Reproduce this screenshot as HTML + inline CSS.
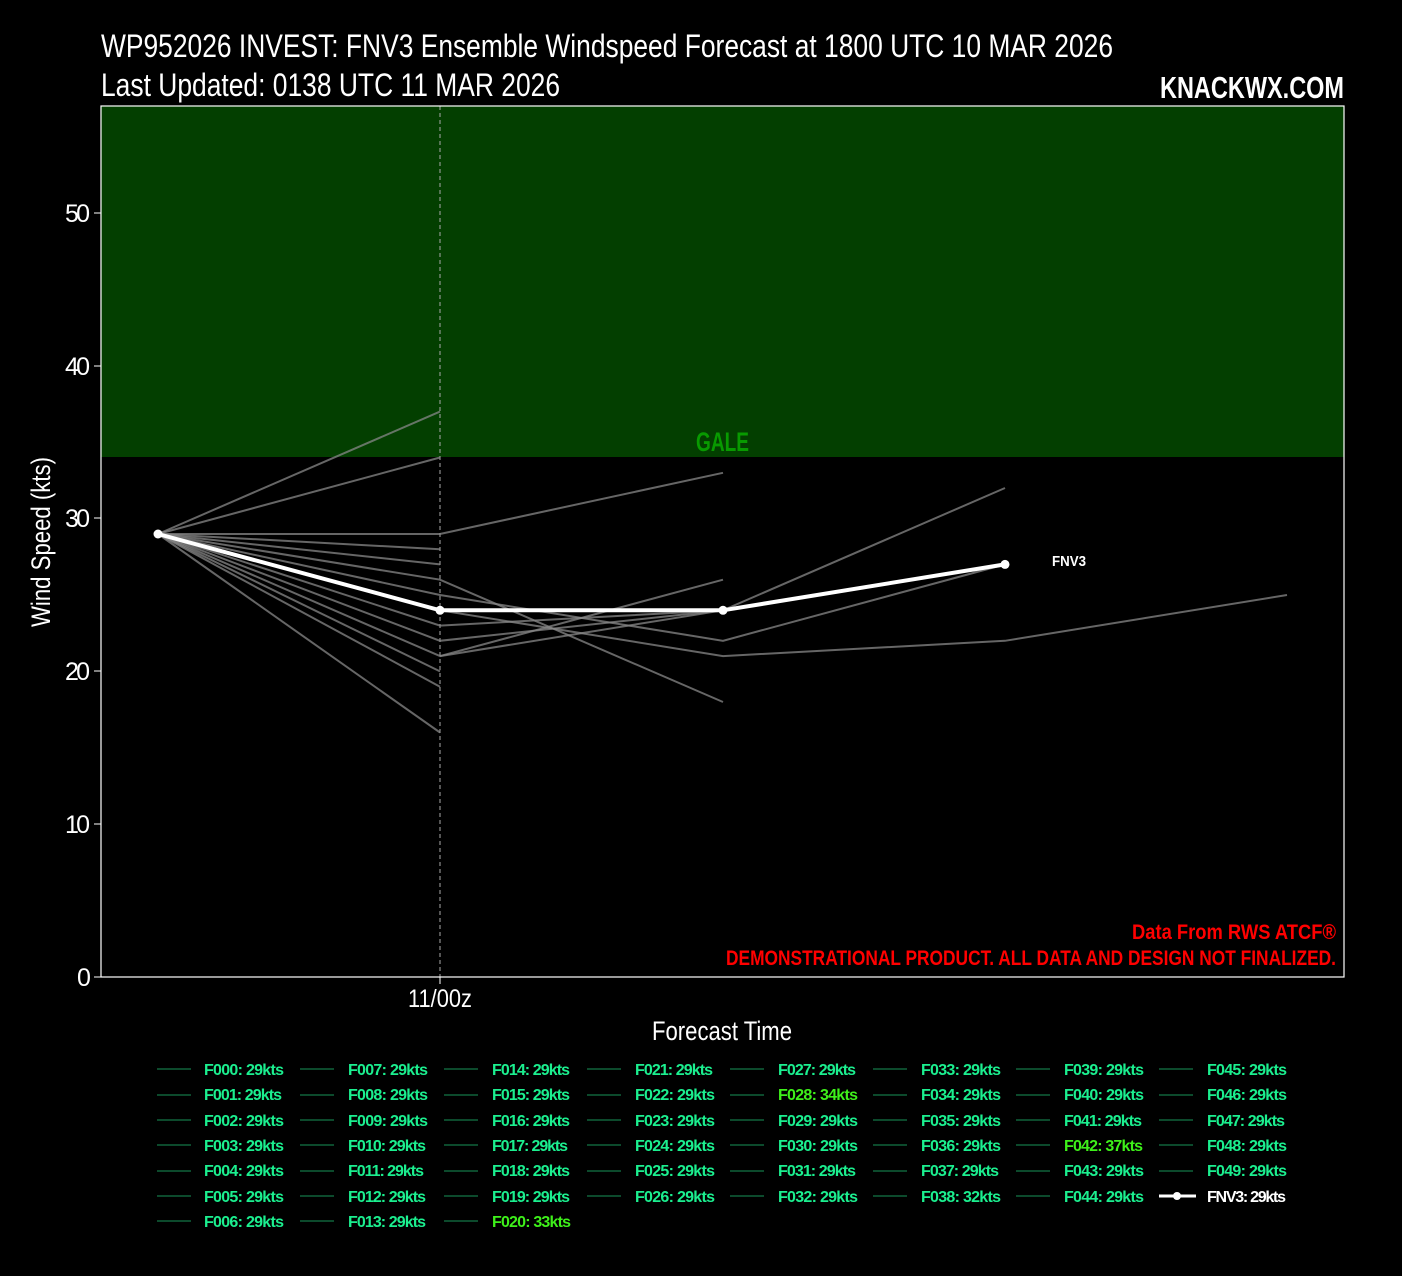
<!DOCTYPE html>
<html><head><style>
body{margin:0;background:#000;}
svg{display:block;font-family:"Liberation Sans Narrow","Liberation Sans",sans-serif;}
.lg{font-size:16px;font-weight:bold;fill:#1bef8f;}
.hl{fill:#3ef01a;}
.e{stroke:#888;stroke-opacity:.75;stroke-width:2;fill:none;}
.ll{stroke:#0c4a2c;stroke-width:2;}
</style></head><body>
<svg width="1402" height="1276" viewBox="0 0 1402 1276" xmlns="http://www.w3.org/2000/svg">
<rect width="1402" height="1276" fill="#000"/>
<text x="101" y="57" fill="#fff" font-size="32" textLength="1012" lengthAdjust="spacingAndGlyphs">WP952026 INVEST: FNV3 Ensemble Windspeed Forecast at 1800 UTC 10 MAR 2026</text>
<text x="101" y="96" fill="#fff" font-size="32" textLength="459" lengthAdjust="spacingAndGlyphs">Last Updated: 0138 UTC 11 MAR 2026</text>
<text x="1160" y="98" fill="#fff" font-size="31" font-weight="bold" textLength="184" lengthAdjust="spacingAndGlyphs">KNACKWX.COM</text>
<rect x="101" y="106" width="1243" height="351" fill="#033f00"/>
<text x="696" y="451" fill="#089a00" font-size="27" font-weight="bold" textLength="53" lengthAdjust="spacingAndGlyphs">GALE</text>
<line x1="440" y1="106" x2="440" y2="977" stroke="#aaa" stroke-width="1" stroke-dasharray="4,3"/>
<g class="e">
<polyline points="158,534 440,411.6"/>
<polyline points="158,534 440,457.5"/>
<polyline points="158,534 440,534 723,472.8"/>
<polyline points="158,534 440,549.2"/>
<polyline points="158,534 440,564.4"/>
<polyline points="158,534 440,579.7 723,702"/>
<polyline points="158,534 440,595 723,640.8 1005,564.4"/>
<polyline points="158,534 440,625.6 723,610.3 1005,488"/>
<polyline points="158,534 440,640.8 723,610.3"/>
<polyline points="158,534 440,656.1 723,579.7"/>
<polyline points="158,534 440,671.4"/>
<polyline points="158,534 440,686.7"/>
<polyline points="158,534 440,732.5"/>
<polyline points="440,610.3 723,656.1 1005,640.8 1287,595"/>
<polyline points="440,656.1 723,610.3"/>
</g>
<polyline points="158,534 440,610.3 723,610.3 1005,564.4" stroke="#fff" stroke-width="4" fill="none"/>
<g fill="#fff"><circle cx="158" cy="534" r="4.5"/><circle cx="440" cy="610.3" r="4.5"/><circle cx="723" cy="610.3" r="4.5"/><circle cx="1005" cy="564.4" r="4.5"/></g>
<text x="1052" y="566" fill="#fff" font-size="15" font-weight="bold" textLength="34" lengthAdjust="spacingAndGlyphs">FNV3</text>
<rect x="101" y="106" width="1243" height="871" fill="none" stroke="#fff" stroke-width="1.2"/>
<g fill="#fff" font-size="25" lengthAdjust="spacingAndGlyphs">
<text x="77" y="986" textLength="13">0</text><text x="65" y="833" textLength="25">10</text><text x="65" y="680" textLength="25">20</text><text x="65" y="527" textLength="25">30</text><text x="65" y="375" textLength="25">40</text><text x="65" y="222" textLength="25">50</text>
</g>
<g stroke="#fff"><line x1="94" y1="977" x2="101" y2="977"/><line x1="94" y1="824" x2="101" y2="824"/><line x1="94" y1="671" x2="101" y2="671"/><line x1="94" y1="518" x2="101" y2="518"/><line x1="94" y1="366" x2="101" y2="366"/><line x1="94" y1="213" x2="101" y2="213"/><line x1="440" y1="977" x2="440" y2="984"/></g>
<text x="408" y="1007" fill="#fff" font-size="25" textLength="64" lengthAdjust="spacingAndGlyphs">11/00z</text>
<text x="652" y="1040" fill="#fff" font-size="27" textLength="140" lengthAdjust="spacingAndGlyphs">Forecast Time</text>
<text transform="translate(50,627) rotate(-90)" fill="#fff" font-size="27" textLength="170" lengthAdjust="spacingAndGlyphs">Wind Speed (kts)</text>
<text x="1132" y="939" fill="#f00" font-size="21" font-weight="bold" textLength="204" lengthAdjust="spacingAndGlyphs">Data From RWS ATCF®</text>
<text x="726" y="965" fill="#f00" font-size="21" font-weight="bold" textLength="610" lengthAdjust="spacingAndGlyphs">DEMONSTRATIONAL PRODUCT. ALL DATA AND DESIGN NOT FINALIZED.</text>
<g class="ll">
<line x1="157" y1="1069" x2="191" y2="1069"/><line x1="157" y1="1095" x2="191" y2="1095"/><line x1="157" y1="1120" x2="191" y2="1120"/><line x1="157" y1="1145" x2="191" y2="1145"/><line x1="157" y1="1171" x2="191" y2="1171"/><line x1="157" y1="1196" x2="191" y2="1196"/><line x1="157" y1="1221" x2="191" y2="1221"/>
<line x1="300" y1="1069" x2="334" y2="1069"/><line x1="300" y1="1095" x2="334" y2="1095"/><line x1="300" y1="1120" x2="334" y2="1120"/><line x1="300" y1="1145" x2="334" y2="1145"/><line x1="300" y1="1171" x2="334" y2="1171"/><line x1="300" y1="1196" x2="334" y2="1196"/><line x1="300" y1="1221" x2="334" y2="1221"/>
<line x1="444" y1="1069" x2="478" y2="1069"/><line x1="444" y1="1095" x2="478" y2="1095"/><line x1="444" y1="1120" x2="478" y2="1120"/><line x1="444" y1="1145" x2="478" y2="1145"/><line x1="444" y1="1171" x2="478" y2="1171"/><line x1="444" y1="1196" x2="478" y2="1196"/><line x1="444" y1="1221" x2="478" y2="1221"/>
<line x1="587" y1="1069" x2="621" y2="1069"/><line x1="587" y1="1095" x2="621" y2="1095"/><line x1="587" y1="1120" x2="621" y2="1120"/><line x1="587" y1="1145" x2="621" y2="1145"/><line x1="587" y1="1171" x2="621" y2="1171"/><line x1="587" y1="1196" x2="621" y2="1196"/>
<line x1="730" y1="1069" x2="764" y2="1069"/><line x1="730" y1="1095" x2="764" y2="1095"/><line x1="730" y1="1120" x2="764" y2="1120"/><line x1="730" y1="1145" x2="764" y2="1145"/><line x1="730" y1="1171" x2="764" y2="1171"/><line x1="730" y1="1196" x2="764" y2="1196"/>
<line x1="873" y1="1069" x2="907" y2="1069"/><line x1="873" y1="1095" x2="907" y2="1095"/><line x1="873" y1="1120" x2="907" y2="1120"/><line x1="873" y1="1145" x2="907" y2="1145"/><line x1="873" y1="1171" x2="907" y2="1171"/><line x1="873" y1="1196" x2="907" y2="1196"/>
<line x1="1016" y1="1069" x2="1050" y2="1069"/><line x1="1016" y1="1095" x2="1050" y2="1095"/><line x1="1016" y1="1120" x2="1050" y2="1120"/><line x1="1016" y1="1145" x2="1050" y2="1145"/><line x1="1016" y1="1171" x2="1050" y2="1171"/><line x1="1016" y1="1196" x2="1050" y2="1196"/>
<line x1="1159" y1="1069" x2="1193" y2="1069"/><line x1="1159" y1="1095" x2="1193" y2="1095"/><line x1="1159" y1="1120" x2="1193" y2="1120"/><line x1="1159" y1="1145" x2="1193" y2="1145"/><line x1="1159" y1="1171" x2="1193" y2="1171"/>
</g>
<line x1="1159" y1="1196" x2="1196" y2="1196" stroke="#fff" stroke-width="3"/><circle cx="1177" cy="1196" r="4" fill="#fff"/>
<g class="lg" lengthAdjust="spacingAndGlyphs">
<text x="204" y="1075" textLength="80">F000: 29kts</text><text x="204" y="1100" textLength="78">F001: 29kts</text><text x="204" y="1126" textLength="80">F002: 29kts</text><text x="204" y="1151" textLength="80">F003: 29kts</text><text x="204" y="1176" textLength="80">F004: 29kts</text><text x="204" y="1202" textLength="80">F005: 29kts</text><text x="204" y="1227" textLength="80">F006: 29kts</text>
<text x="348" y="1075" textLength="80">F007: 29kts</text><text x="348" y="1100" textLength="80">F008: 29kts</text><text x="348" y="1126" textLength="80">F009: 29kts</text><text x="348" y="1151" textLength="78">F010: 29kts</text><text x="348" y="1176" textLength="76">F011: 29kts</text><text x="348" y="1202" textLength="78">F012: 29kts</text><text x="348" y="1227" textLength="78">F013: 29kts</text>
<text x="492" y="1075" textLength="78">F014: 29kts</text><text x="492" y="1100" textLength="78">F015: 29kts</text><text x="492" y="1126" textLength="78">F016: 29kts</text><text x="492" y="1151" textLength="76">F017: 29kts</text><text x="492" y="1176" textLength="78">F018: 29kts</text><text x="492" y="1202" textLength="78">F019: 29kts</text><text x="492" y="1227" class="lg hl" textLength="79">F020: 33kts</text>
<text x="635" y="1075" textLength="78">F021: 29kts</text><text x="635" y="1100" textLength="80">F022: 29kts</text><text x="635" y="1126" textLength="80">F023: 29kts</text><text x="635" y="1151" textLength="80">F024: 29kts</text><text x="635" y="1176" textLength="80">F025: 29kts</text><text x="635" y="1202" textLength="80">F026: 29kts</text>
<text x="778" y="1075" textLength="78">F027: 29kts</text><text x="778" y="1100" class="lg hl" textLength="80">F028: 34kts</text><text x="778" y="1126" textLength="80">F029: 29kts</text><text x="778" y="1151" textLength="80">F030: 29kts</text><text x="778" y="1176" textLength="78">F031: 29kts</text><text x="778" y="1202" textLength="80">F032: 29kts</text>
<text x="921" y="1075" textLength="80">F033: 29kts</text><text x="921" y="1100" textLength="80">F034: 29kts</text><text x="921" y="1126" textLength="80">F035: 29kts</text><text x="921" y="1151" textLength="80">F036: 29kts</text><text x="921" y="1176" textLength="78">F037: 29kts</text><text x="921" y="1202" textLength="80">F038: 32kts</text>
<text x="1064" y="1075" textLength="80">F039: 29kts</text><text x="1064" y="1100" textLength="80">F040: 29kts</text><text x="1064" y="1126" textLength="78">F041: 29kts</text><text x="1064" y="1151" class="lg hl" textLength="79">F042: 37kts</text><text x="1064" y="1176" textLength="80">F043: 29kts</text><text x="1064" y="1202" textLength="80">F044: 29kts</text>
<text x="1207" y="1075" textLength="80">F045: 29kts</text><text x="1207" y="1100" textLength="80">F046: 29kts</text><text x="1207" y="1126" textLength="78">F047: 29kts</text><text x="1207" y="1151" textLength="80">F048: 29kts</text><text x="1207" y="1176" textLength="80">F049: 29kts</text><text x="1207" y="1202" style="fill:#fff" textLength="79">FNV3: 29kts</text>
</g>
</svg>
</body></html>
